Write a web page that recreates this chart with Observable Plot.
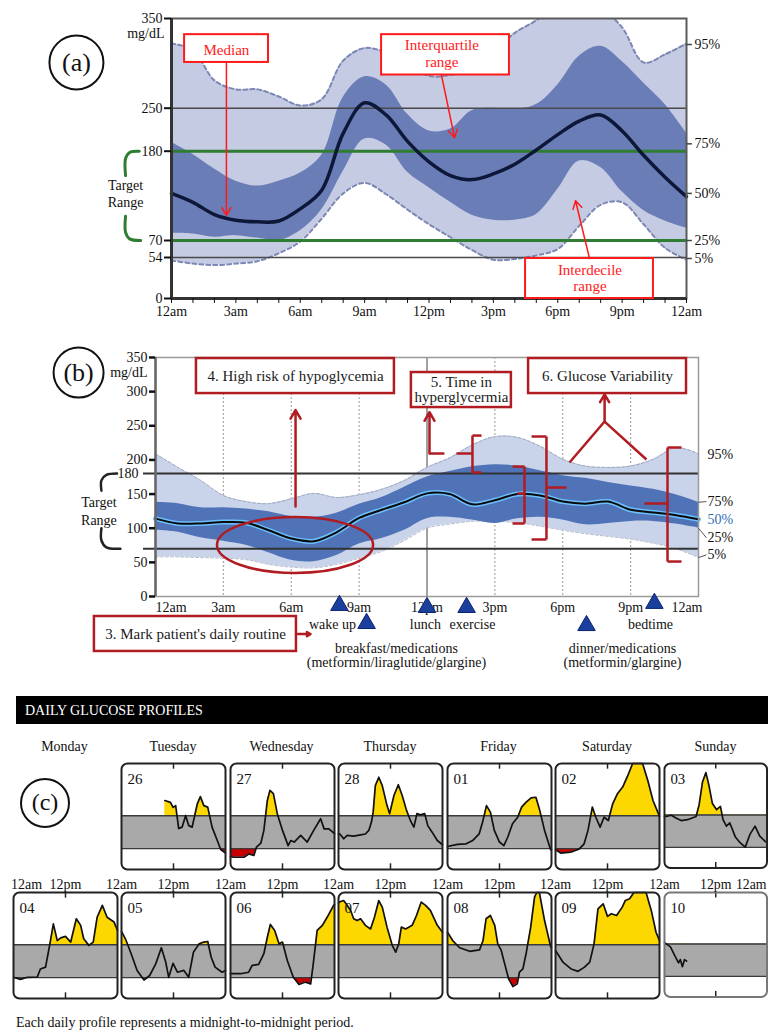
<!DOCTYPE html>
<html>
<head>
<meta charset="utf-8">
<script src="https://cdn.jsdelivr.net/npm/d3@7"></script>
<script src="https://cdn.jsdelivr.net/npm/@observablehq/plot@0.6"></script>
<style>
  html,body{margin:0;padding:0;background:#fff;}
  #page{position:relative;width:768px;height:1032px;overflow:hidden;background:#fff;
        font-family:"Liberation Serif","Times New Roman",serif;color:#111;}
  .abs{position:absolute;}
</style>
</head>
<body>
<div id="page"></div>
<script>
const SERIF = '"Liberation Serif","Times New Roman",serif';

// ---------------- DATA ----------------
// hour of day (0 = midnight)
const hours = [0,1,2,3,4,5,6,7,8,9,10,11,12,13,14,15,16,17,18,19,20,21,22,23,24];
const tickHours = [0,3,6,9,12,15,18,21,24];
const tickLabels = ["12am","3am","6am","9am","12pm","3pm","6pm","9pm","12am"];

// Panel (a): ambulatory glucose profile percentiles (mg/dL)
const aP5  = [50,46,44,46,49,58,69,97,128,141,127,108,90,74,61,51,52,56,62,88,114,117,90,63,51];
const aP25 = [79,78,74,76,73,70,82,108,155,200,190,154,135,117,101,95,95,102,133,168,160,130,107,94,85];
const aP50 = [128,117,102,95,93,94,109,132,209,256,239,196,167,150,145,152,164,182,207,229,239,213,175,148,124];
const aP75 = [194,176,158,143,137,143,153,175,262,285,276,240,213,216,246,250,248,254,276,308,319,302,278,254,209];
const aP95 = [322,315,281,271,271,263,253,260,303,317,312,299,286,287,294,313,334,348,368,372,362,340,301,310,322];
const aYTicks = [0,54,70,180,250,350];
const aPctLabels = ["95%","75%","50%","25%","5%"];

// Panel (b)
const bP5  = [58,58,57,56,54,47,43,42,47,56,66,82,100,106,110,110,108,103,97,92,88,84,78,70,57];
const bP25 = [97,94,86,81,75,64,53,51,60,77,85,97,114,116,112,107,114,116,112,105,107,110,110,106,100];
const bP50 = [114,107,107,109,108,97,85,81,94,115,127,138,151,150,135,141,150,148,139,136,139,127,123,119,113];
const bP75 = [138,136,130,130,128,124,117,116,122,135,145,160,175,183,190,193,191,184,177,173,167,162,157,149,138];
const bP95 = [209,189,170,148,139,136,143,151,145,149,157,170,189,203,222,234,233,220,201,191,189,191,201,218,209];
const bYTicks = [0,50,100,150,200,250,300,350];
const routineEvents = ["wake up","breakfast","lunch","exercise","dinner","bedtime"];
const routineHours  = [8.13, 9.33, 12.0, 13.75, 19.05, 22.05];

// Panel (c): daily glucose profiles, [hour, mg/dL]
const weekdays = ["Monday","Tuesday","Wednesday","Thursday","Friday","Saturday","Sunday"];
const week1Dates = ["", "26","27","28","01","02","03"];
const week2Dates = ["04","05","06","07","08","09","10"];
const day26 = [[10.0,231],[11.3,225],[11.9,208],[12.5,214],[13.2,137],[14.0,142],[14.8,181],[15.5,147],[16.3,142],[17.5,220],[18.2,244],[19.0,214],[19.9,209],[20.9,142],[22.1,97],[22.9,67],[24,55]];
const day27 = [[0,43],[0.8,41],[3.1,41],[4.2,52],[5.4,47],[6.0,75],[7.0,88],[7.7,131],[8.5,231],[9.1,265],[9.9,254],[10.8,187],[12.0,131],[13.3,80],[13.9,97],[14.7,92],[16.2,114],[17.7,92],[19.2,131],[20.8,170],[21.6,136],[22.7,136],[24,120]];
const day28 = [[0,119],[0.3,119],[1.2,103],[2.0,114],[3.5,112],[5.1,116],[6.2,119],[7.0,131],[7.6,159],[8.0,192],[8.5,281],[9.3,309],[10.1,281],[11.2,214],[11.8,187],[12.8,248],[13.8,284],[14.7,248],[15.7,198],[16.6,164],[17.4,142],[18.1,187],[18.9,183],[19.9,187],[20.6,147],[21.6,125],[22.8,97],[24,83]];
const day01 = [[0,77],[2.3,84],[4.3,86],[5.8,97],[7.3,119],[8.1,159],[9.0,214],[9.9,192],[10.8,131],[12.0,92],[13.0,80],[13.9,108],[15.0,153],[16.2,175],[17.1,209],[18.1,225],[19.3,240],[20.4,242],[21.2,203],[22.4,131],[23.8,66],[24,66]];
const day02 = [[0,66],[1.2,55],[3.5,58],[5.5,69],[6.6,86],[7.5,131],[8.5,209],[9.3,175],[10.3,142],[11.2,175],[12.2,164],[13.2,220],[14.3,254],[15.5,276],[16.7,315],[17.8,355],[20.1,355],[21.3,298],[22.5,231],[24,178]];
const day03 = [[0,175],[0.4,175],[1.6,179],[2.7,170],[3.9,161],[5.4,164],[7.4,175],[8.1,214],[8.9,292],[9.7,324],[10.4,281],[11.2,220],[12.2,198],[13.1,209],[13.7,164],[14.5,142],[15.3,153],[16.6,105],[17.7,86],[18.9,71],[20.0,114],[21.2,142],[22.3,108],[23.7,89],[24,88]];
const day04 = [[0,71],[1.6,64],[3.2,71],[5.5,72],[6.2,99],[7.4,105],[8.4,183],[9.2,250],[10.1,194],[10.9,203],[12.0,208],[13.2,189],[14.5,267],[15.5,245],[16.2,200],[17.4,178],[18.4,189],[19.3,272],[20.5,312],[21.6,272],[23.2,256],[24,228]];
const day05 = [[0,225],[0.9,200],[2.1,155],[3.6,94],[5.2,62],[6.5,77],[7.9,116],[9.2,170],[10.2,122],[10.9,71],[11.9,118],[12.9,88],[14.4,94],[15.5,71],[16.6,155],[17.9,183],[19.0,189],[19.9,191],[20.7,138],[21.6,105],[23.2,88],[24,94]];
const day06 = [[0,83],[2.3,83],[4.2,88],[5.0,111],[6.5,114],[7.7,150],[8.5,205],[9.2,248],[10.2,228],[11.2,183],[12.0,189],[13.1,127],[14.5,71],[15.8,47],[17.3,55],[18.5,49],[19.1,116],[20.0,228],[21.2,245],[22.3,272],[23.8,312],[24,315]];
const day07 = [[0,320],[0.2,323],[1.2,328],[2.0,312],[2.8,295],[3.5,267],[4.3,261],[5.1,267],[6.2,245],[7.4,233],[8.3,272],[9.3,328],[10.1,306],[11.2,239],[12.4,178],[13.2,155],[13.9,183],[14.5,239],[15.5,233],[17.0,245],[18.0,278],[19.1,323],[20.1,312],[21.2,295],[22.8,245],[24,222]];
const day08 = [[0,222],[1.2,194],[2.8,170],[5.1,158],[7.4,163],[8.2,194],[8.9,267],[9.9,278],[10.9,245],[11.6,183],[12.4,161],[13.2,116],[14.1,66],[15.1,40],[16.1,49],[16.6,88],[17.4,99],[18.2,155],[19.2,239],[20.1,340],[20.6,355],[21.2,355],[22.4,261],[23.8,174],[24,170]];
const day09 = [[0,161],[1.7,122],[3.6,99],[5.2,91],[6.7,105],[7.9,122],[8.9,183],[9.8,300],[11.0,317],[12.0,275],[12.9,284],[14.1,278],[15.4,306],[16.1,328],[17.1,334],[18.1,355],[20.9,355],[22.1,295],[23.2,222],[24,194]];
const day10 = [[0,186],[0.2,183],[1.4,170],[2.5,138],[3.3,116],[3.7,127],[4.2,103],[4.7,127],[5.2,122]];
const week1Data = [null, day26, day27, day28, day01, day02, day03];
const week2Data = [day04, day05, day06, day07, day08, day09, day10];

const TARGET_LOW = 70, TARGET_HIGH = 180;

// ---------------- HELPERS ----------------
const page = document.getElementById("page");
function place(node, left, top) {
  const d = document.createElement("div");
  d.className = "abs";
  d.style.left = left + "px"; d.style.top = top + "px";
  d.appendChild(node); page.appendChild(d); return d;
}
function htmlText(txt, left, top, css) {
  const d = document.createElement("div");
  d.className = "abs"; d.textContent = txt;
  d.style.left = left + "px"; d.style.top = top + "px";
  Object.assign(d.style, css || {});
  page.appendChild(d); return d;
}
const curve = "catmull-rom";
const tickMap = new Map(tickHours.map((h, i) => [h, tickLabels[i]]));
function ellipseMark(cx, cy, rxH, ryV, color) {
  return (index, scales) => {
    const sx = scales.x, sy = scales.y;
    return d3.create("svg:ellipse")
      .attr("cx", sx(cx)).attr("cy", sy(cy))
      .attr("rx", Math.abs(sx(cx + rxH) - sx(cx))).attr("ry", Math.abs(sy(cy + ryV) - sy(cy)))
      .attr("fill", "none").attr("stroke", color).attr("stroke-width", 2.5).node();
  };
}

// ---------------- PANEL (a) ----------------
const aRows = hours.map((h, i) => ({h, p5: aP5[i], p25: aP25[i], p50: aP50[i], p75: aP75[i], p95: aP95[i]}));
const RED = "#ff1a1a";
const plotA = Plot.plot({
  width: 768, height: 320, marginTop: 18, marginBottom: 22, marginLeft: 171, marginRight: 82,
  style: {fontFamily: SERIF, fontSize: "14px", background: "transparent", overflow: "visible", color: "#111"},
  x: {domain: [0, 24], range: [171, 686], label: null},
  y: {type: "linear", domain: aYTicks, range: [298, 257, 240, 150.7, 107.7, 18], label: null},
  marks: [
    Plot.areaY(aRows, {x: "h", y1: "p5", y2: "p95", fill: "#c4cbe3", curve, clip: true}),
    Plot.areaY(aRows, {x: "h", y1: "p25", y2: "p75", fill: "#6b7db7", curve, clip: true}),
    Plot.line(aRows, {x: "h", y: "p95", stroke: "#7c87b4", strokeWidth: 2, strokeDasharray: "4,3", curve, clip: true}),
    Plot.line(aRows, {x: "h", y: "p5", stroke: "#7c87b4", strokeWidth: 2, strokeDasharray: "4,3", curve, clip: true}),
    Plot.ruleY([250, 54], {stroke: "#4a4a4a", strokeWidth: 1.6}),
    Plot.ruleY([TARGET_HIGH, TARGET_LOW], {stroke: "#2e7d32", strokeWidth: 3}),
    Plot.line(aRows, {x: "h", y: "p50", stroke: "#0d1838", strokeWidth: 3.5, curve}),
    Plot.frame({stroke: "#5a5a5a", strokeWidth: 2}),
    Plot.ruleX([0], {stroke: "#333", strokeWidth: 3}),
    Plot.ruleY([0], {stroke: "#333", strokeWidth: 3}),
    Plot.axisY({ticks: aYTicks, tickSize: 7, tickPadding: 2, fontSize: 14, strokeWidth: 2}),
    Plot.axisX({ticks: hours, tickSize: 5, tickPadding: 3, fontSize: 14, tickFormat: d => tickMap.get(d) ?? ""}),
    Plot.text(["mg/dL"], {x: 0, y: 350, dx: -7, dy: 15, textAnchor: "end", fontSize: 14}),
    // percentile labels on the right
    Plot.link(aPctLabels, {x1: 24, x2: 24.25, y1: [321, 192, 128, 70, 52.7], y2: [321, 192, 128, 70, 52.7], stroke: "#444", strokeWidth: 1.5}),
    Plot.text(aPctLabels, {x: 24, y: [321, 192, 128, 70, 52.7], dx: 8, textAnchor: "start", fontSize: 14}),
    // target range bracket
    Plot.line([{x: -1.5, y: 180}, {x: -1.95, y: 178.5}, {x: -2.14, y: 171}, {x: -2.14, y: 150}], {x: "x", y: "y", curve, stroke: "#2e7d32", strokeWidth: 3}),
    Plot.line([{x: -2.14, y: 100}, {x: -2.14, y: 80}, {x: -1.95, y: 72}, {x: -1.44, y: 70}], {x: "x", y: "y", curve, stroke: "#2e7d32", strokeWidth: 3}),
    Plot.text(["Target", "Range"], {x: -2.14, y: [138, 117], fontSize: 14}),
    // (a) marker
    Plot.dot(["(a)"], {x: -4.43, y: 301, r: 27, stroke: "#111", strokeWidth: 2, fill: "white"}),
    Plot.text(["(a)"], {x: -4.43, y: 301, fontSize: 26}),
    // red annotation boxes
    Plot.rect([{x1: 0.61, x2: 4.52, y1: 301, y2: 332}, {x1: 9.79, x2: 15.75, y1: 287, y2: 332}, {x1: 16.5, x2: 22.46, y1: 0, y2: 52.7}],
      {x1: "x1", x2: "x2", y1: "y1", y2: "y2", fill: "white", stroke: RED, strokeWidth: 2}),
    Plot.text([{x: 2.56, y: 315, t: "Median"}, {x: 12.6, y: 320, t: "Interquartile"}, {x: 12.6, y: 301, t: "range"},
               {x: 19.5, y: 37.8, t: "Interdecile"}, {x: 19.5, y: 15.8, t: "range"}],
      {x: "x", y: "y", text: "t", fill: RED, fontSize: 15}),
    Plot.arrow([{x1: 2.56, y1: 301, x2: 2.56, y2: 101}, {x1: 12.58, y1: 287, x2: 13.19, y2: 202}, {x1: 19.48, y1: 52.7, x2: 18.83, y2: 119}],
      {x1: "x1", y1: "y1", x2: "x2", y2: "y2", stroke: RED, strokeWidth: 1.5, headLength: 9})
  ]
});
place(plotA, 0, 0);

// ---------------- PANEL (b) ----------------
const bRows = hours.map((h, i) => ({h, p5: bP5[i], p25: bP25[i], p50: bP50[i], p75: bP75[i], p95: bP95[i]}));
const DRED = "#b01c22";
const routine = routineEvents.map((e, i) => ({event: e, h: routineHours[i]}));
const plotB = Plot.plot({
  width: 768, height: 360, marginTop: 37, marginBottom: 84, marginLeft: 155, marginRight: 70,
  style: {fontFamily: SERIF, fontSize: "14px", background: "transparent", overflow: "visible", color: "#111"},
  x: {domain: [0, 24], range: [155, 698], label: null, axis: null},
  y: {type: "linear", domain: [0, 350], range: [276, 37], label: null},
  marks: [
    Plot.ruleX([3, 6, 9, 15, 18, 21], {stroke: "#aaa", strokeWidth: 1.2, strokeDasharray: "2,2"}),
    Plot.ruleX([12], {stroke: "#8a8a8a", strokeWidth: 1.6}),
    Plot.areaY(bRows, {x: "h", y1: "p5", y2: "p95", fill: "#c9d3ea", curve}),
    Plot.line(bRows, {x: "h", y: "p95", stroke: "#9ea6bb", strokeWidth: 1, strokeDasharray: "3,2", curve}),
    Plot.line(bRows, {x: "h", y: "p5", stroke: "#b4bccc", strokeWidth: 1, strokeDasharray: "3,2", curve}),
    Plot.areaY(bRows, {x: "h", y1: "p25", y2: "p75", fill: "#4f73b6", curve}),
    Plot.ruleY([TARGET_HIGH, TARGET_LOW], {x1: -0.53, x2: 24, stroke: "#333", strokeWidth: 2}),
    Plot.line(bRows, {x: "h", y: "p50", stroke: "#6cc0ff", strokeWidth: 5, curve}),
    Plot.line(bRows, {x: "h", y: "p50", stroke: "#0a0a0a", strokeWidth: 2, curve}),
    Plot.frame({stroke: "#9a9a9a", strokeWidth: 1.5}),
    Plot.ruleX([0], {stroke: "#666", strokeWidth: 2.5}),
    Plot.axisY({ticks: bYTicks, tickSize: 6, tickPadding: 2, fontSize: 14, strokeWidth: 2.5}),
    Plot.text(["mg/dL"], {x: 0, y: 350, dx: -8, dy: 15, textAnchor: "end", fontSize: 14}),
    Plot.text(["180"], {x: 0, y: TARGET_HIGH, dx: -17, textAnchor: "end", fontSize: 14}),
    // x tick labels
    Plot.text(tickHours.slice(0, 1), {x: d => d, y: 0, dy: 11, text: d => tickMap.get(d), textAnchor: "start", fontSize: 14}),
    Plot.text(tickHours.slice(1, -1), {x: d => d, y: 0, dy: 11, text: d => tickMap.get(d), fontSize: 14}),
    Plot.text(tickHours.slice(-1), {x: d => d, y: 0, dy: 11, dx: 4, text: d => tickMap.get(d), textAnchor: "end", fontSize: 14}),
    // right labels
    Plot.link(["75%", "25%", "5%"], {x1: 24, y1: [138, 100, 57], x2: 24.35, y2: [139, 86, 61], stroke: "#555", strokeWidth: 1}),
    Plot.text(aPctLabels, {x: 24, y: [208, 139, 113, 86, 61], dx: 9, textAnchor: "start", fontSize: 14,
      fill: d => d === "50%" ? "#2f6db5" : "#111"}),
    // target range bracket
    Plot.line([{x: -1.70, y: 180}, {x: -2.17, y: 178}, {x: -2.39, y: 170}, {x: -2.39, y: 155}], {x: "x", y: "y", curve, stroke: "#222", strokeWidth: 2.5}),
    Plot.line([{x: -2.39, y: 100}, {x: -2.39, y: 82}, {x: -2.17, y: 72}, {x: -1.55, y: 70}], {x: "x", y: "y", curve, stroke: "#222", strokeWidth: 2.5}),
    Plot.text(["Target", "Range"], {x: -2.5, y: [137, 112], fontSize: 14}),
    // (b) marker
    Plot.dot(["(b)"], {x: -3.40, y: 328, r: 25, stroke: "#111", strokeWidth: 2, fill: "white"}),
    Plot.text(["(b)"], {x: -3.40, y: 328, fontSize: 26}),
    // annotation boxes
    Plot.rect([{x1: 1.81, x2: 10.56, y1: 297.2, y2: 348.5}, {x1: 11.31, x2: 15.73, y1: 276.7, y2: 328}, {x1: 16.49, x2: 23.47, y1: 297.2, y2: 348.5}, {x1: -2.70, x2: 6.23, y1: -80.5, y2: -29.3}],
      {x1: "x1", x2: "x2", y1: "y1", y2: "y2", fill: "white", stroke: DRED, strokeWidth: 2.5}),
    Plot.text([{x: 6.19, y: 322, t: "4. High risk of hypoglycemia"}, {x: 13.52, y: 314, t: "5. Time in"}, {x: 13.52, y: 292.5, t: "hyperglycermia"},
               {x: 19.98, y: 322, t: "6. Glucose Variability"}, {x: 1.77, y: -55, t: "3. Mark patient's daily routine"}],
      {x: "x", y: "y", text: "t", fill: "#1a1a1a", fontSize: 15}),
    ellipseMark(6.19, 74.7, 3.45, 41, DRED),
    // red brackets & connectors
    Plot.link([
      {x1: 12.77, y1: 209.4, x2: 12.11, y2: 209.4},
      {x1: 14.01, y1: 235.7, x2: 14.01, y2: 181.6}, {x1: 14.01, y1: 235.7, x2: 14.41, y2: 235.7}, {x1: 14.01, y1: 181.6, x2: 14.41, y2: 181.6}, {x1: 13.3, y1: 209.4, x2: 14.01, y2: 209.4},
      {x1: 16.31, y1: 190.3, x2: 16.31, y2: 106.9}, {x1: 15.78, y1: 190.3, x2: 16.31, y2: 190.3}, {x1: 15.78, y1: 106.9, x2: 16.31, y2: 106.9}, {x1: 16.0, y1: 150.8, x2: 16.31, y2: 150.8},
      {x1: 17.28, y1: 234.3, x2: 17.28, y2: 83.5}, {x1: 16.62, y1: 234.3, x2: 17.28, y2: 234.3}, {x1: 16.62, y1: 83.5, x2: 17.28, y2: 83.5}, {x1: 17.28, y1: 159.6, x2: 18.17, y2: 159.6},
      {x1: 22.63, y1: 218.2, x2: 22.63, y2: 51.2}, {x1: 22.63, y1: 218.2, x2: 23.25, y2: 218.2}, {x1: 22.63, y1: 51.2, x2: 23.25, y2: 51.2}, {x1: 21.61, y1: 136.2, x2: 22.63, y2: 136.2},
      {x1: 19.85, y1: 256.2, x2: 18.3, y2: 196.2}, {x1: 19.85, y1: 256.2, x2: 21.7, y2: 200.6}
    ], {x1: "x1", y1: "y1", x2: "x2", y2: "y2", stroke: DRED, strokeWidth: 2.5}),
    Plot.arrow([
      {x1: 12.11, y1: 209.4, x2: 12.11, y2: 270},
      {x1: 19.85, y1: 256.2, x2: 19.85, y2: 296},
      {x1: 6.19, y1: 131.8, x2: 6.19, y2: 273},
      {x1: 6.30, y1: -55, x2: 6.85, y2: -55}
    ], {x1: "x1", y1: "y1", x2: "x2", y2: "y2", stroke: DRED, strokeWidth: 2.5, headLength: 6}),
    // daily routine markers
    Plot.dot(routine, {x: "h", y: [-13, -39.5, -16, -16, -42.5, -10], symbol: "triangle", r: 6.5, fill: "#1b3f9c", stroke: "#0b2270", strokeWidth: 1}),
    Plot.text([{x: 7.82, y: -41, t: "wake up"}, {x: 10.65, y: -75.7, t: "breakfast/medications"}, {x: 10.65, y: -96.2, t: "(metformin/liraglutide/glargine)"},
               {x: 11.93, y: -41, t: "lunch"}, {x: 14.01, y: -41, t: "exercise"}, {x: 20.64, y: -75.7, t: "dinner/medications"},
               {x: 20.64, y: -96.2, t: "(metformin/glargine)"}, {x: 21.88, y: -41, t: "bedtime"}],
      {x: "x", y: "y", text: "t", fontSize: 14})
  ]
});
place(plotB, 0, 320);

// ---------------- PANEL (c) ----------------
htmlText("DAILY GLUCOSE PROFILES", 16, 696, {width: "743px", height: "28px", lineHeight: "29px", paddingLeft: "9px",
  background: "#000", color: "#fff", fontSize: "14px"});
const slotLeft = k => 12.5 + 108.5 * k;
weekdays.forEach((w, k) => htmlText(w, slotLeft(k), 738, {width: "104px", textAlign: "center", fontSize: "14px", lineHeight: "18px"}));
htmlText("(c)", 20, 778, {width: "46px", height: "46px", border: "2px solid #111", borderRadius: "50%",
  textAlign: "center", lineHeight: "44px", fontSize: "24px"});
htmlText("Each daily profile represents a midnight-to-midnight period.", 16, 1014, {fontSize: "14px", lineHeight: "18px"});

const Y_TOP = 355;
const YEL = "#fcd700", GRAY = "#a9a9a9", REDC = "#c40000";
function dayPlot(name, pts, topAxis, faint) {
  const rows = pts.map(([h, v]) => ({h, v}));
  const marks = [
    Plot.areaY(rows, {x: "h", y1: TARGET_LOW, y2: "v", fill: REDC}),
    Plot.rect([name], {x1: 0, x2: 24, y1: TARGET_LOW, y2: TARGET_HIGH, fill: GRAY}),
    Plot.rect([name], {x1: 0, x2: 24, y1: TARGET_HIGH, y2: Y_TOP, fill: "white"}),
    Plot.areaY(rows, {x: "h", y1: TARGET_HIGH, y2: d => Math.max(d.v, TARGET_LOW), fill: YEL}),
    Plot.rect([name], {x1: 0, x2: 24, y1: TARGET_LOW, y2: TARGET_HIGH, fill: GRAY}),
    Plot.ruleY([TARGET_LOW, TARGET_HIGH], {stroke: "#3a3a3a", strokeWidth: 1.3}),
    Plot.line(rows, {x: "h", y: "v", stroke: "#111", strokeWidth: 1.7}),
    Plot.ruleX([12], {y1: Y_TOP, y2: Y_TOP - 19, stroke: "#222", strokeWidth: 1.5}),
    Plot.ruleX([12], {y1: 0, y2: 19, stroke: "#222", strokeWidth: 1.5}),
    Plot.text([name], {frameAnchor: "top-left", dx: 6, dy: 10, fontSize: 15}),
    Plot.frame({rx: 6, ry: 6, stroke: faint ? "#777" : "#222", strokeWidth: 2})
  ];
  if (topAxis) marks.push(...topAxis);
  return Plot.plot({
    width: 108, height: 110, margin: 2,
    style: {fontFamily: SERIF, fontSize: "14px", background: "transparent", overflow: "visible", color: "#111"},
    x: {domain: [0, 24], label: null, axis: null},
    y: {domain: [0, Y_TOP], label: null, axis: null},
    marks
  });
}
const ampm = d => d === 12 ? "12pm" : "12am";
week1Data.forEach((pts, k) => {
  if (!pts) return;
  place(dayPlot(week1Dates[k], pts, null, false), slotLeft(k) - 2, 763 - 2);
});
week2Data.forEach((pts, k) => {
  const axes = [];
  if (k === 0) {
    axes.push(Plot.axisX({anchor: "top", ticks: [0], tickSize: 0, tickPadding: 4, fontSize: 14, dx: 13, tickFormat: ampm}));
    axes.push(Plot.axisX({anchor: "top", ticks: [12], tickSize: 0, tickPadding: 4, fontSize: 14, tickFormat: ampm}));
  } else {
    axes.push(Plot.axisX({anchor: "top", ticks: [0, 12], tickSize: 0, tickPadding: 4, fontSize: 14, tickFormat: ampm}));
  }
  if (k === 6) axes.push(Plot.axisX({anchor: "top", ticks: [24], tickSize: 0, tickPadding: 4, fontSize: 14, dx: -16, tickFormat: ampm}));
  place(dayPlot(week2Dates[k], pts, axes, k === 6), slotLeft(k) - 2, 892 - 2);
});
</script>
</body>
</html>
